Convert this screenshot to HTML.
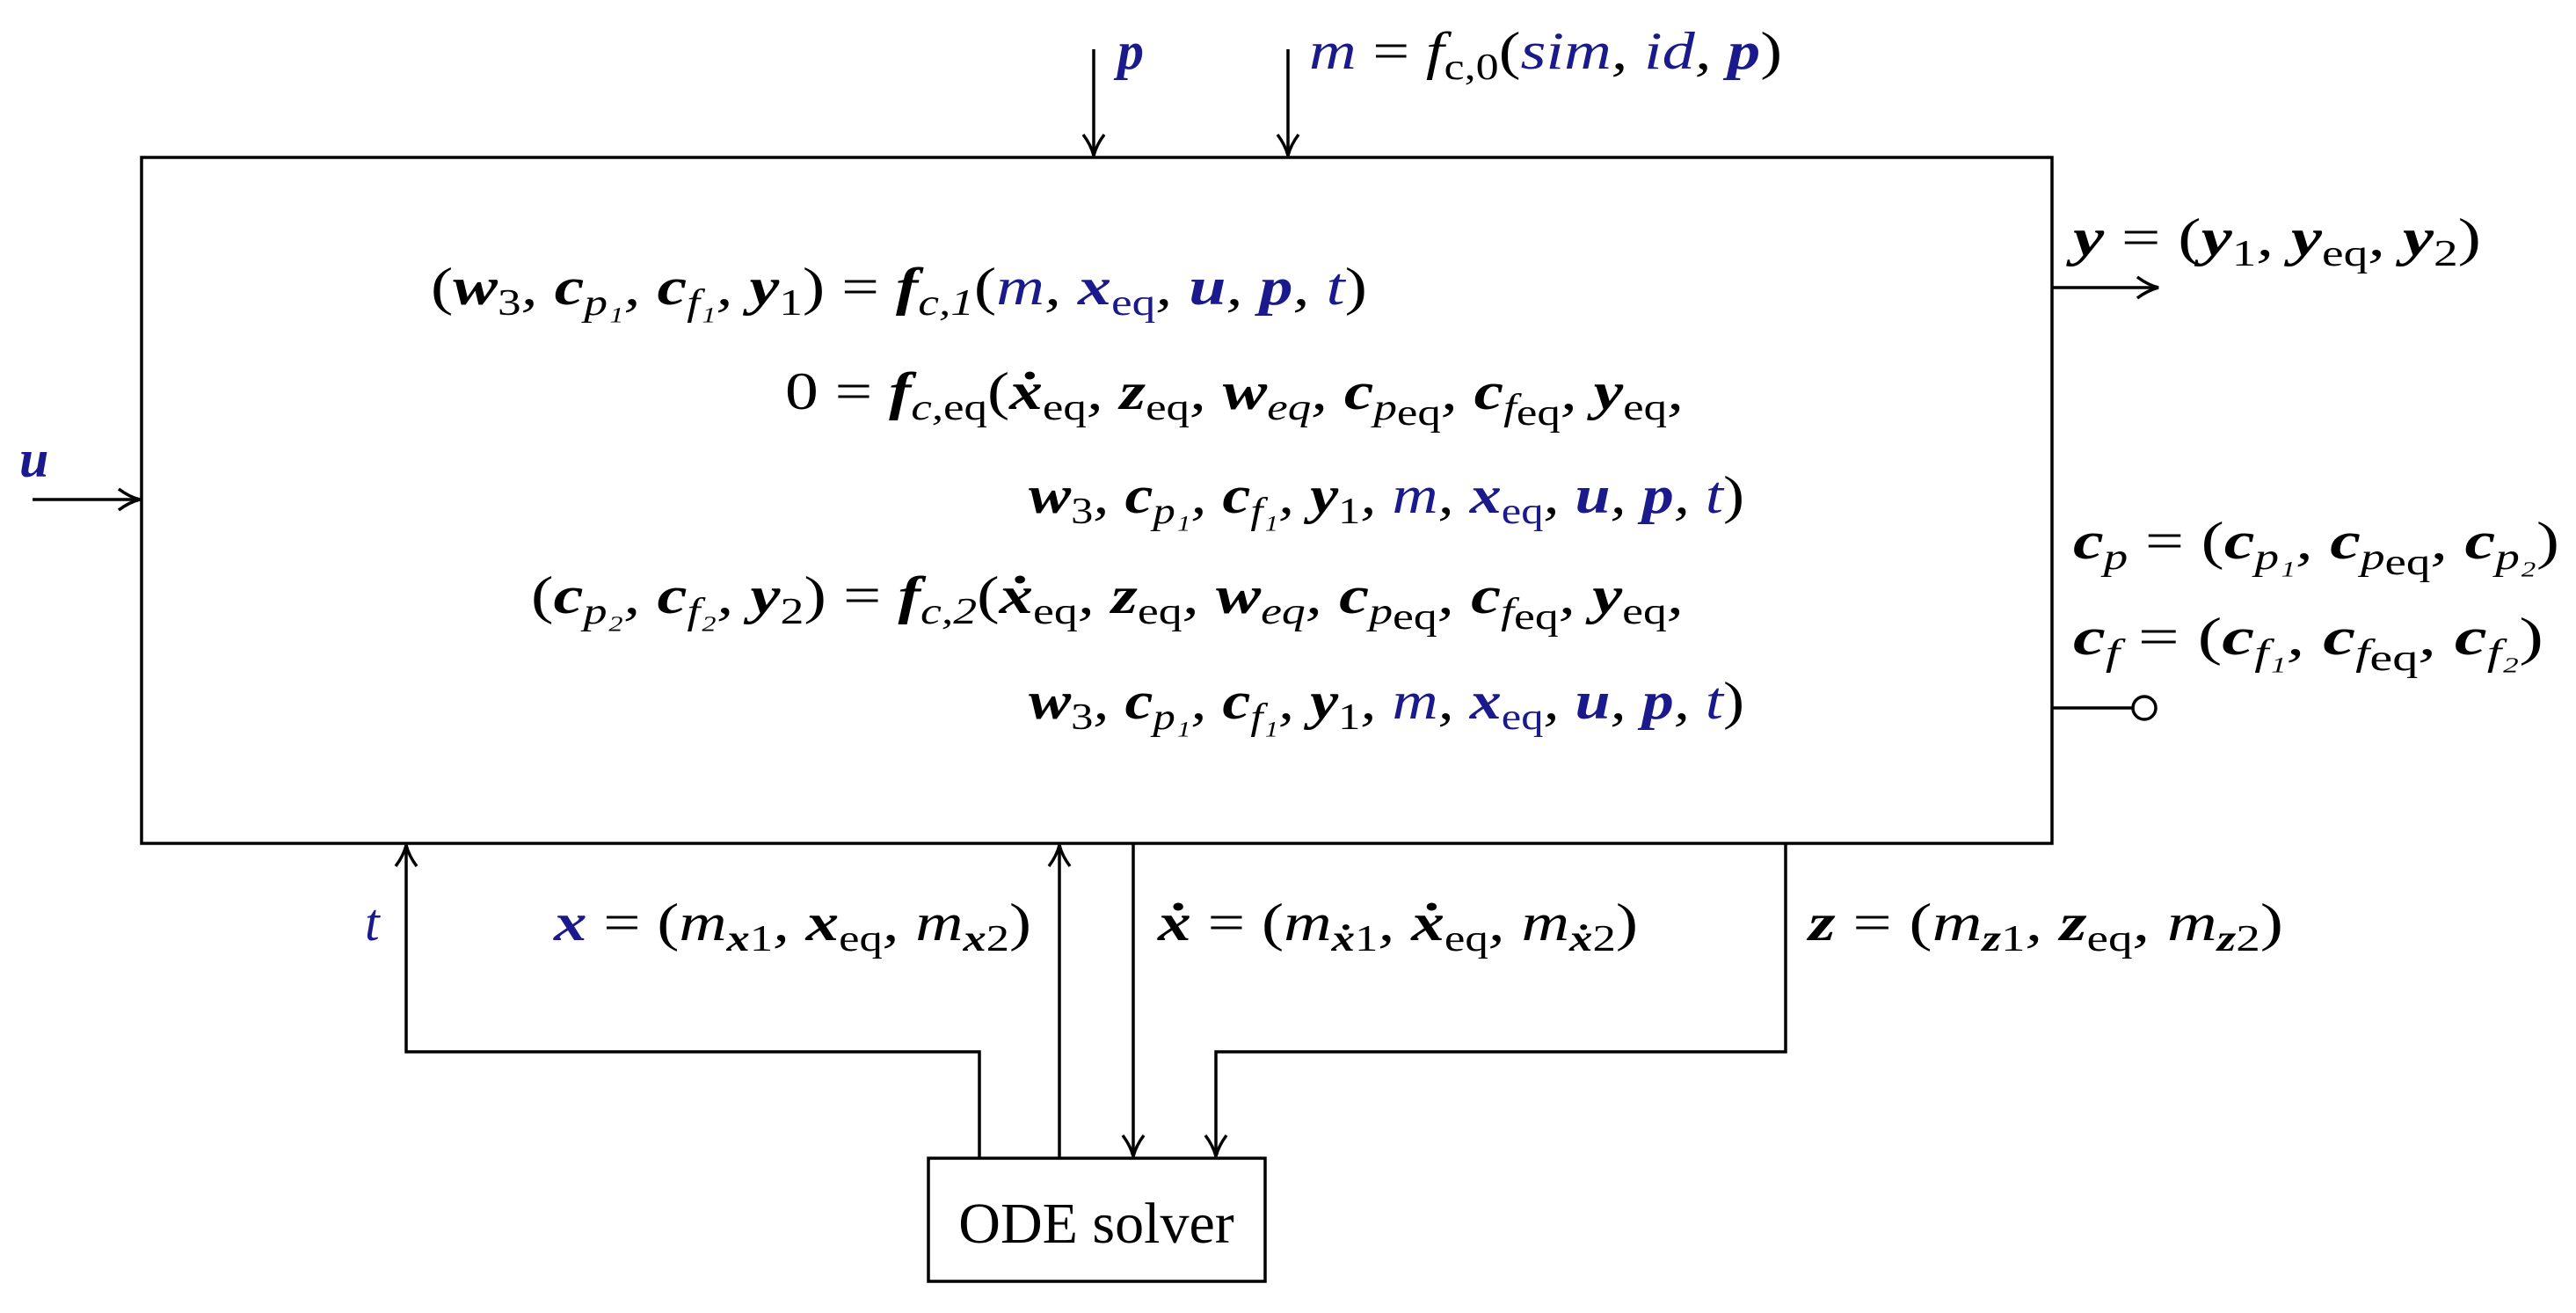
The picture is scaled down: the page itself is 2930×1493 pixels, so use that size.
<!DOCTYPE html>
<html><head><meta charset="utf-8"><style>
html,body{margin:0;padding:0;background:#fff;}
svg{display:block;}
text{font-family:"Liberation Serif",serif;font-style:italic;font-size:60px;fill:#000;}
.b{font-weight:bold;}
.u{fill:#1a1a8c;}
.r{font-style:normal;}
.s{font-size:42px;}
</style></head><body>
<svg width="2930" height="1493" viewBox="0 0 2930 1493" xmlns="http://www.w3.org/2000/svg">
<defs>
<marker id="ah" viewBox="0 0 30 30" refX="27" refY="15" markerWidth="30" markerHeight="30" markerUnits="userSpaceOnUse" orient="auto">
<path d="M3,3 Q15,12 27,15 Q15,18 3,27" fill="none" stroke="#000" stroke-width="3.5"/>
</marker>
</defs>
<g stroke="#000" stroke-width="3.5" fill="none">
<rect x="161" y="179" width="2173" height="780"/>
<rect x="1056" y="1317" width="383" height="140"/>
<line x1="1244" y1="56" x2="1244" y2="177" marker-end="url(#ah)"/>
<line x1="1465" y1="56" x2="1465" y2="177" marker-end="url(#ah)"/>
<line x1="2334" y1="327" x2="2455" y2="327" marker-end="url(#ah)"/>
<line x1="37" y1="568" x2="159" y2="568" marker-end="url(#ah)"/>
<line x1="2334" y1="805" x2="2426" y2="805"/>
<circle cx="2439" cy="805" r="13" fill="#fff"/>
<polyline points="1114,1317 1114,1196 462,1196 462,961" marker-end="url(#ah)"/>
<line x1="1205" y1="1317" x2="1205" y2="961" marker-end="url(#ah)"/>
<line x1="1289" y1="959" x2="1289" y2="1315" marker-end="url(#ah)"/>
<polyline points="2031,959 2031,1196 1383,1196 1383,1315" marker-end="url(#ah)"/>
</g>

<text x="1271" y="78" class="b u">p</text>
<text x="1489" y="78" textLength="538" lengthAdjust="spacingAndGlyphs"><tspan class="u">m</tspan><tspan class="r"> = </tspan>f<tspan class="s r" dy="12">c,0</tspan><tspan class="r" dy="-12">(</tspan><tspan class="u">sim</tspan>, <tspan class="u">id</tspan>, <tspan class="b u">p</tspan><tspan class="r">)</tspan></text>

<text x="2358" y="290" textLength="464" lengthAdjust="spacingAndGlyphs"><tspan class="b">y</tspan><tspan class="r"> = (</tspan><tspan class="b">y</tspan><tspan class="s r" dy="12">1</tspan><tspan dy="-12">, </tspan><tspan class="b">y</tspan><tspan class="s r" dy="12">eq</tspan><tspan dy="-12">, </tspan><tspan class="b">y</tspan><tspan class="s r" dy="12">2</tspan><tspan class="r" dy="-12">)</tspan></text>

<text x="2358" y="635" textLength="553" lengthAdjust="spacingAndGlyphs"><tspan class="b">c</tspan><tspan class="s" dy="12">p</tspan><tspan class="r" dy="-12"> = (</tspan><tspan class="b">c</tspan><tspan class="s" dy="12">p₁</tspan><tspan dy="-12">, </tspan><tspan class="b">c</tspan><tspan class="s" dy="12">p</tspan><tspan class="s r" dy="6">eq</tspan><tspan dy="-18">, </tspan><tspan class="b">c</tspan><tspan class="s" dy="12">p₂</tspan><tspan class="r" dy="-12">)</tspan></text>
<text x="2358" y="744" textLength="535" lengthAdjust="spacingAndGlyphs"><tspan class="b">c</tspan><tspan class="s" dy="12">f</tspan><tspan class="r" dy="-12"> = (</tspan><tspan class="b">c</tspan><tspan class="s" dy="12">f₁</tspan><tspan dy="-12">, </tspan><tspan class="b">c</tspan><tspan class="s" dy="12">f</tspan><tspan class="s r" dy="6">eq</tspan><tspan dy="-18">, </tspan><tspan class="b">c</tspan><tspan class="s" dy="12">f₂</tspan><tspan class="r" dy="-12">)</tspan></text>

<text x="22" y="542" class="b u">u</text>

<text x="490" y="346" textLength="1065" lengthAdjust="spacingAndGlyphs"><tspan class="r">(</tspan><tspan class="b">w</tspan><tspan class="s r" dy="12">3</tspan><tspan dy="-12">, </tspan><tspan class="b">c</tspan><tspan class="s" dy="12">p₁</tspan><tspan dy="-12">, </tspan><tspan class="b">c</tspan><tspan class="s" dy="12">f₁</tspan><tspan dy="-12">, </tspan><tspan class="b">y</tspan><tspan class="s r" dy="12">1</tspan><tspan class="r" dy="-12">) = </tspan><tspan class="b">f</tspan><tspan class="s" dy="12">c,1</tspan><tspan class="r" dy="-12">(</tspan><tspan class="u">m</tspan>, <tspan class="b u">x</tspan><tspan class="s r u" dy="12">eq</tspan><tspan dy="-12">, </tspan><tspan class="b u">u</tspan>, <tspan class="b u">p</tspan>, <tspan class="u">t</tspan><tspan class="r">)</tspan></text>

<text x="893" y="465" textLength="1022" lengthAdjust="spacingAndGlyphs"><tspan class="r">0 = </tspan><tspan class="b">f</tspan><tspan class="s" dy="12">c,</tspan><tspan class="s r">eq</tspan><tspan class="r" dy="-12">(</tspan><tspan class="b">ẋ</tspan><tspan class="s r" dy="12">eq</tspan><tspan dy="-12">, </tspan><tspan class="b">z</tspan><tspan class="s r" dy="12">eq</tspan><tspan dy="-12">, </tspan><tspan class="b">w</tspan><tspan class="s" dy="12">eq</tspan><tspan dy="-12">, </tspan><tspan class="b">c</tspan><tspan class="s" dy="12">p</tspan><tspan class="s r" dy="6">eq</tspan><tspan dy="-18">, </tspan><tspan class="b">c</tspan><tspan class="s" dy="12">f</tspan><tspan class="s r" dy="6">eq</tspan><tspan dy="-18">, </tspan><tspan class="b">y</tspan><tspan class="s r" dy="12">eq</tspan><tspan dy="-12">,</tspan></text>

<text x="1170" y="583" textLength="814" lengthAdjust="spacingAndGlyphs"><tspan class="b">w</tspan><tspan class="s r" dy="12">3</tspan><tspan dy="-12">, </tspan><tspan class="b">c</tspan><tspan class="s" dy="12">p₁</tspan><tspan dy="-12">, </tspan><tspan class="b">c</tspan><tspan class="s" dy="12">f₁</tspan><tspan dy="-12">, </tspan><tspan class="b">y</tspan><tspan class="s r" dy="12">1</tspan><tspan dy="-12">, </tspan><tspan class="u">m</tspan>, <tspan class="b u">x</tspan><tspan class="s r u" dy="12">eq</tspan><tspan dy="-12">, </tspan><tspan class="b u">u</tspan>, <tspan class="b u">p</tspan>, <tspan class="u">t</tspan><tspan class="r">)</tspan></text>

<text x="604" y="697" textLength="1311" lengthAdjust="spacingAndGlyphs"><tspan class="r">(</tspan><tspan class="b">c</tspan><tspan class="s" dy="12">p₂</tspan><tspan dy="-12">, </tspan><tspan class="b">c</tspan><tspan class="s" dy="12">f₂</tspan><tspan dy="-12">, </tspan><tspan class="b">y</tspan><tspan class="s r" dy="12">2</tspan><tspan class="r" dy="-12">) = </tspan><tspan class="b">f</tspan><tspan class="s" dy="12">c,2</tspan><tspan class="r" dy="-12">(</tspan><tspan class="b">ẋ</tspan><tspan class="s r" dy="12">eq</tspan><tspan dy="-12">, </tspan><tspan class="b">z</tspan><tspan class="s r" dy="12">eq</tspan><tspan dy="-12">, </tspan><tspan class="b">w</tspan><tspan class="s" dy="12">eq</tspan><tspan dy="-12">, </tspan><tspan class="b">c</tspan><tspan class="s" dy="12">p</tspan><tspan class="s r" dy="6">eq</tspan><tspan dy="-18">, </tspan><tspan class="b">c</tspan><tspan class="s" dy="12">f</tspan><tspan class="s r" dy="6">eq</tspan><tspan dy="-18">, </tspan><tspan class="b">y</tspan><tspan class="s r" dy="12">eq</tspan><tspan dy="-12">,</tspan></text>

<text x="1170" y="817" textLength="814" lengthAdjust="spacingAndGlyphs"><tspan class="b">w</tspan><tspan class="s r" dy="12">3</tspan><tspan dy="-12">, </tspan><tspan class="b">c</tspan><tspan class="s" dy="12">p₁</tspan><tspan dy="-12">, </tspan><tspan class="b">c</tspan><tspan class="s" dy="12">f₁</tspan><tspan dy="-12">, </tspan><tspan class="b">y</tspan><tspan class="s r" dy="12">1</tspan><tspan dy="-12">, </tspan><tspan class="u">m</tspan>, <tspan class="b u">x</tspan><tspan class="s r u" dy="12">eq</tspan><tspan dy="-12">, </tspan><tspan class="b u">u</tspan>, <tspan class="b u">p</tspan>, <tspan class="u">t</tspan><tspan class="r">)</tspan></text>

<text x="415" y="1069" class="u">t</text>
<text x="630" y="1069" textLength="543" lengthAdjust="spacingAndGlyphs"><tspan class="b u">x</tspan><tspan class="r"> = (</tspan>m<tspan class="s b" dy="12">x</tspan><tspan class="s r">1</tspan><tspan dy="-12">, </tspan><tspan class="b">x</tspan><tspan class="s r" dy="12">eq</tspan><tspan dy="-12">, </tspan>m<tspan class="s b" dy="12">x</tspan><tspan class="s r">2</tspan><tspan class="r" dy="-12">)</tspan></text>
<text x="1317" y="1069" textLength="546" lengthAdjust="spacingAndGlyphs"><tspan class="b">ẋ</tspan><tspan class="r"> = (</tspan>m<tspan class="s b" dy="12">ẋ</tspan><tspan class="s r">1</tspan><tspan dy="-12">, </tspan><tspan class="b">ẋ</tspan><tspan class="s r" dy="12">eq</tspan><tspan dy="-12">, </tspan>m<tspan class="s b" dy="12">ẋ</tspan><tspan class="s r">2</tspan><tspan class="r" dy="-12">)</tspan></text>
<text x="2057" y="1069" textLength="540" lengthAdjust="spacingAndGlyphs"><tspan class="b">z</tspan><tspan class="r"> = (</tspan>m<tspan class="s b" dy="12">z</tspan><tspan class="s r">1</tspan><tspan dy="-12">, </tspan><tspan class="b">z</tspan><tspan class="s r" dy="12">eq</tspan><tspan dy="-12">, </tspan>m<tspan class="s b" dy="12">z</tspan><tspan class="s r">2</tspan><tspan class="r" dy="-12">)</tspan></text>

<text x="1247" y="1413" class="r" text-anchor="middle" style="font-size:66px">ODE solver</text>
</svg>
</body></html>
